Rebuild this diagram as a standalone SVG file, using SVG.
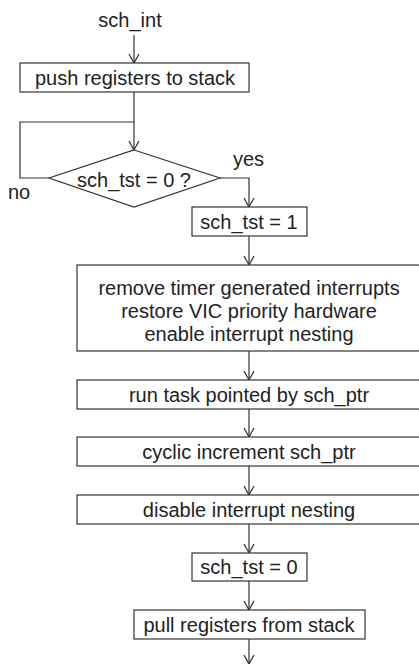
<svg xmlns="http://www.w3.org/2000/svg" width="419" height="664" viewBox="0 0 419 664">
<style>
.box{fill:#fff;stroke:#333;stroke-width:1.2}
.t{font-family:"Liberation Sans",Arial,sans-serif;font-size:20px;fill:#222;text-anchor:middle}
.l{font-family:"Liberation Sans",Arial,sans-serif;font-size:20px;fill:#222}
.c{fill:none;stroke:#333;stroke-width:1.2}
</style>
<defs>
<marker id="ah" markerWidth="12" markerHeight="12" refX="10" refY="6" orient="auto" markerUnits="userSpaceOnUse">
<path d="M1,1 L10,6 L1,11" fill="none" stroke="#333" stroke-width="1.3"/>
</marker>
</defs>
<rect width="419" height="664" fill="#fff"/>
<g id="connectors">
<path class="c" d="M134,35 V63" marker-end="url(#ah)"/>
<path class="c" d="M134,92 V150" marker-end="url(#ah)"/>
<path class="c" d="M49,178 H20 V122 H134"/>
<path class="c" d="M220,178 H249 V207" marker-end="url(#ah)"/>
<path class="c" d="M249,236 V265" marker-end="url(#ah)"/>
<path class="c" d="M249,351 V380" marker-end="url(#ah)"/>
<path class="c" d="M249,409 V437" marker-end="url(#ah)"/>
<path class="c" d="M249,466 V495" marker-end="url(#ah)"/>
<path class="c" d="M249,524 V553" marker-end="url(#ah)"/>
<path class="c" d="M249,581 V610" marker-end="url(#ah)"/>
<path class="c" d="M249,639 V664" marker-end="url(#ah)"/>
</g>
<g id="start"><text class="t" x="130" y="27">sch_int</text></g>
<g id="push"><rect class="box" x="20" y="63" width="229" height="29"/><text class="t" x="135" y="85">push registers to stack</text></g>
<g id="decision"><polygon class="box" points="134,150 220,178 134,207 49,178"/><text class="t" x="134" y="187">sch_tst = 0 ?</text>
<text class="l" x="8" y="199">no</text><text class="l" x="233" y="166">yes</text></g>
<g id="set1"><rect class="box" x="192" y="207" width="115" height="29"/><text class="t" x="249" y="229">sch_tst = 1</text></g>
<g id="remove"><rect class="box" x="77" y="265" width="344" height="86"/>
<text class="t" x="249" y="295">remove timer generated interrupts</text>
<text class="t" x="249" y="318">restore VIC priority hardware</text>
<text class="t" x="249" y="341">enable interrupt nesting</text></g>
<g id="run"><rect class="box" x="77" y="380" width="344" height="29"/><text class="t" x="249" y="402">run task pointed by sch_ptr</text></g>
<g id="cyclic"><rect class="box" x="77" y="437" width="344" height="29"/><text class="t" x="249" y="459">cyclic increment sch_ptr</text></g>
<g id="disable"><rect class="box" x="77" y="495" width="344" height="29"/><text class="t" x="249" y="517">disable interrupt nesting</text></g>
<g id="set0"><rect class="box" x="192" y="553" width="115" height="28"/><text class="t" x="249" y="574">sch_tst = 0</text></g>
<g id="pull"><rect class="box" x="134" y="610" width="231" height="29"/><text class="t" x="249" y="632">pull registers from stack</text></g>
</svg>
